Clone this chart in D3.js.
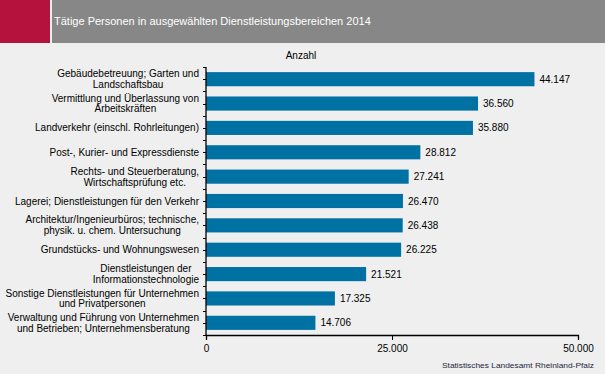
<!DOCTYPE html>
<html>
<head>
<meta charset="utf-8">
<script src="https://cdn.jsdelivr.net/npm/d3@7"></script>
<style>
  body { margin: 0; background: #eeefee; }
  svg { display: block; font-family: "Liberation Sans", Arial, sans-serif; }
</style>
</head>
<body>
<svg id="chart" width="605" height="374"></svg>
<script>
const title = 'Tätige Personen in ausgewählten Dienstleistungsbereichen 2014';
const unitLabel = 'Anzahl';
const source = 'Statistisches Landesamt Rheinland-Pfalz';

// category labels, lines split with \n
const categories = [
  'Gebäudebetreuung; Garten und\nLandschaftsbau',
  'Vermittlung und Überlassung von\nArbeitskräften',
  'Landverkehr (einschl. Rohrleitungen)',
  'Post-, Kurier- und Expressdienste',
  'Rechts- und Steuerberatung,\nWirtschaftsprüfung etc.',
  'Lagerei; Dienstleistungen für den Verkehr',
  'Architektur/Ingenieurbüros; technische,\nphysik. u. chem. Untersuchung',
  'Grundstücks- und Wohnungswesen',
  'Dienstleistungen der\nInformationstechnologie',
  'Sonstige Dienstleistungen für Unternehmen\nund Privatpersonen',
  'Verwaltung und Führung von Unternehmen\nund Betrieben; Unternehmensberatung'
];
const values = [44147, 36560, 35880, 28812, 27241, 26470, 26438, 26225, 21521, 17325, 14706];
const xTicks = [0, 25000, 50000];

const svg = d3.select('#chart');
const fmt = d3.formatLocale({ decimal: ',', thousands: '.', grouping: [3], currency: ['', ' €'] }).format(',d');

// header
svg.append('rect').attr('x', 0).attr('y', 0).attr('width', 50).attr('height', 43).attr('fill', '#b5123e');
svg.append('rect').attr('x', 52).attr('y', 0).attr('width', 553).attr('height', 43).attr('fill', '#878787');
svg.append('text')
    .attr('x', 54)
    .attr('y', 25)
    .attr('fill', '#ffffff')
    .style('font-size', '11px')
    .text(title);

const margin = { top: 67, left: 206, right: 27, bottom: 39 };
const width = 605 - margin.left - margin.right;
const height = 374 - margin.top - margin.bottom;

const g = svg.append('g')
    .attr('transform', `translate(${margin.left},${margin.top})`);

const x = d3.scaleLinear().domain([0, 50000]).range([0, width]);
const y = d3.scaleBand().domain(d3.range(categories.length)).range([0, height]).paddingInner(0.42).paddingOuter(0.21);

g.append('text')
    .attr('x', 95)
    .attr('y', -8)
    .attr('text-anchor', 'middle')
    .style('font-size', '10px')
    .attr('fill', '#000')
    .text(unitLabel);

g.selectAll('.bar')
    .data(values)
  .enter().append('rect')
    .attr('class', 'bar')
    .attr('x', 0)
    .attr('y', (d, i) => y(i))
    .attr('width', d => x(d))
    .attr('height', y.bandwidth())
    .attr('fill', '#0071a3');

g.selectAll('.val')
    .data(values)
  .enter().append('text')
    .attr('class', 'val')
    .attr('x', d => x(d) + 5)
    .attr('y', (d, i) => y(i) + y.bandwidth() / 2)
    .attr('dy', '0.35em')
    .style('font-size', '10px')
    .attr('fill', '#000')
    .text(d => fmt(d));

// y axis: line + ticks at band boundaries and centres
const step = y.step();
const tickYs = [];
for (let i = 0; i <= categories.length; i += 1) {
  tickYs.push(i * step);
  if (i < categories.length) tickYs.push(y(i) + y.bandwidth() / 2);
}
g.append('line').attr('x1', 0).attr('x2', 0).attr('y1', 0).attr('y2', height)
    .attr('stroke', '#000').attr('stroke-width', 1.3);
g.selectAll('.ytick')
    .data(tickYs)
  .enter().append('line')
    .attr('x1', -3).attr('x2', 0)
    .attr('y1', d => Math.round(d) + 0.5)
    .attr('y2', d => Math.round(d) + 0.5)
    .attr('stroke', '#000');

// category labels: lines centred within a block right-aligned to the axis
const labels = g.selectAll('.cat')
    .data(categories)
  .enter().append('text')
    .attr('class', 'cat')
    .attr('text-anchor', 'middle')
    .style('font-size', '10px')
    .attr('fill', '#000');

labels.each(function (d, i) {
  const t = d3.select(this);
  const lines = d.split('\n');
  const cy = y(i) + y.bandwidth() / 2;
  const lh = 10.8;
  lines.forEach((ln, k) => {
    t.append('tspan')
      .attr('y', cy + (k - (lines.length - 1) / 2) * lh)
      .attr('dy', '0.35em')
      .text(ln);
  });
  let maxW = 0;
  t.selectAll('tspan').each(function () {
    maxW = Math.max(maxW, this.getComputedTextLength());
  });
  t.selectAll('tspan').attr('x', -7 - maxW / 2);
});

// x axis
const xAxis = d3.axisBottom(x)
    .tickValues(xTicks)
    .tickSize(5)
    .tickFormat(d => fmt(d));

const xg = g.append('g')
    .attr('transform', `translate(0,${height})`)
    .call(xAxis);
xg.select('.domain').attr('stroke-width', 1.3);
xg.selectAll('text').style('font-size', '10px').style('font-family', '"Liberation Sans", Arial, sans-serif').attr('dy', '0.9em');

svg.append('text')
    .attr('x', 594)
    .attr('y', 368)
    .attr('text-anchor', 'end')
    .attr('textLength', 152)
    .attr('lengthAdjust', 'spacingAndGlyphs')
    .style('font-size', '8px')
    .attr('fill', '#1f1f3f')
    .text(source);
</script>
</body>
</html>
